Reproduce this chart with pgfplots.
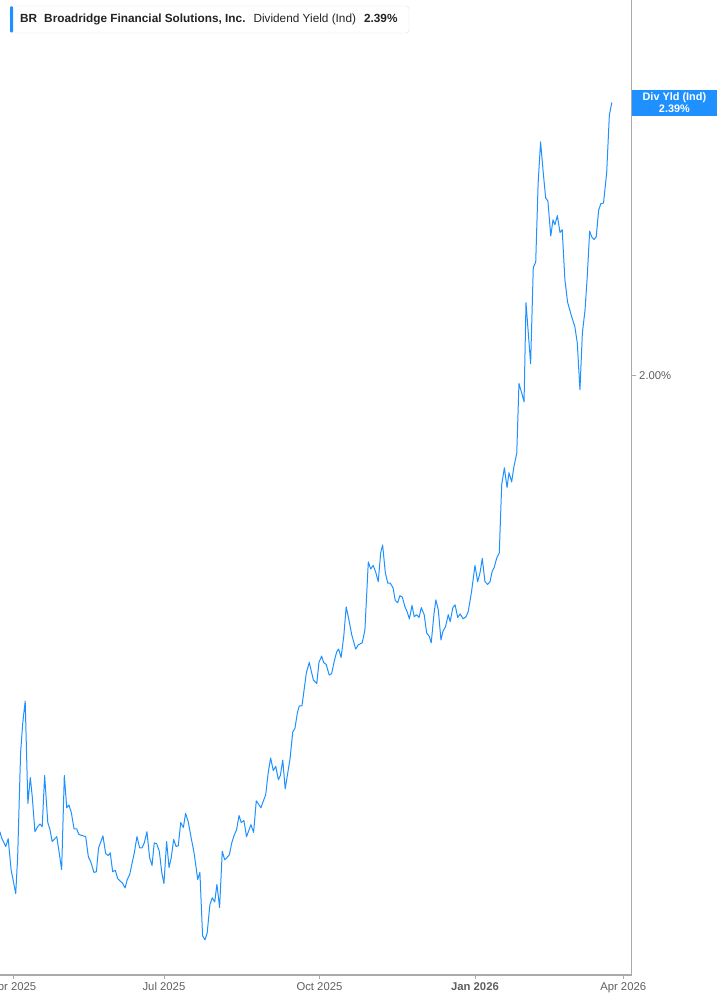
\documentclass[border=0pt]{standalone}
\usepackage{fontspec}
\setmainfont{Liberation Sans}
\usepackage{pgfplots}
\pgfplotsset{compat=1.18}
\definecolor{lineblue}{RGB}{30,144,255}
\definecolor{axisgray}{RGB}{170,170,170}
\definecolor{labelgray}{RGB}{95,95,95}
\definecolor{headtext}{RGB}{35,35,35}

\begin{document}
\begin{tikzpicture}[x=1pt,y=1pt]
\begin{axis}[
  at={(0,0)}, anchor=south west,
  scale only axis, width=631.7pt, height=975pt,
  xmin=-5.47, xmax=254.5, ymin=1.147, ymax=2.535,
  axis x line*=bottom, axis y line*=right,
  axis line style={axisgray, line width=1.2pt},
  xtick={0,62,126,190,251},
  xticklabels={Apr 2025, Jul 2025, Oct 2025, \textbf{Jan 2026}, Apr 2026},
  ytick={2}, yticklabels={2.00\%},
  tick align=outside, major tick length=4pt,
  tick style={axisgray, line width=0.8pt},
  tick label style={font=\fontsize{11.3}{13}\selectfont, text=labelgray},
  /pgf/number format/assume math mode=true,
  clip mode=individual,
]
% x: trading day since 1 Apr 2025, y: dividend yield in %
\addplot[lineblue, line width=1pt, line join=round] coordinates {
(-5.5,1.351) (-4.8,1.342) (-3.1,1.330) (-2.1,1.341) (-0.9,1.297)
(1.0,1.263) (1.8,1.315) (3.0,1.463) (3.9,1.506) (4.9,1.537)
(6.0,1.391) (7.0,1.428) (7.8,1.401) (8.9,1.351) (10.0,1.358)
(11.0,1.362) (11.9,1.358) (12.9,1.431) (14.2,1.364) (15.1,1.354)
(16.0,1.337) (17.9,1.344) (19.9,1.297) (21.0,1.431) (22.0,1.385)
(22.9,1.389) (23.9,1.378) (25.0,1.355) (26.1,1.355) (27.0,1.347)
(29.8,1.344) (30.9,1.315) (31.9,1.308) (33.2,1.293) (34.2,1.294)
(35.1,1.328) (36.9,1.345) (38.0,1.320) (39.1,1.317) (39.9,1.321)
(40.9,1.294) (42.0,1.296) (43.0,1.284) (43.9,1.281) (44.9,1.278)
(46.0,1.271) (46.9,1.283) (47.9,1.290) (49.8,1.321) (50.9,1.344)
(52.0,1.328) (53.0,1.328) (53.9,1.335) (55.0,1.351) (56.1,1.314)
(57.1,1.303) (58.0,1.335) (59.0,1.334) (60.1,1.323) (61.1,1.293)
(62.0,1.277) (63.1,1.337) (64.1,1.300) (65.0,1.314) (66.0,1.340)
(67.0,1.330) (67.9,1.331) (68.9,1.364) (70.0,1.357) (70.9,1.377)
(72.0,1.365) (73.1,1.344) (74.4,1.321) (75.9,1.283) (76.8,1.293)
(77.9,1.203) (78.9,1.197) (79.8,1.207) (80.9,1.247) (81.9,1.257)
(82.9,1.251) (83.8,1.276) (84.9,1.243) (86.0,1.323) (87.0,1.311)
(87.9,1.314) (88.9,1.318) (89.9,1.335) (90.8,1.345) (91.9,1.354)
(92.9,1.374) (93.8,1.364) (94.9,1.367) (96.0,1.344) (97.8,1.361)
(98.9,1.350) (100.0,1.395) (101.9,1.385) (103.9,1.404) (104.9,1.435)
(105.9,1.456) (107.0,1.438) (108.0,1.444) (109.1,1.425) (109.9,1.431)
(110.9,1.453) (111.9,1.412) (113.9,1.455) (115.0,1.493) (115.9,1.498)
(116.9,1.520) (117.7,1.530) (118.8,1.530) (120.6,1.577) (121.8,1.592)
(123.5,1.567) (124.9,1.562) (125.8,1.592) (126.9,1.601) (127.7,1.592)
(128.8,1.589) (130.0,1.574) (131.0,1.576) (132.1,1.594) (133.1,1.607)
(133.9,1.611) (134.9,1.599) (136.0,1.629) (137.0,1.671) (138.1,1.653)
(139.3,1.631) (140.9,1.611) (142.0,1.617) (143.6,1.620) (144.7,1.638)
(146.1,1.735) (147.1,1.725) (148.1,1.730) (149.1,1.721) (150.2,1.707)
(151.2,1.748) (152.0,1.759) (153.1,1.720) (154.1,1.705) (155.1,1.705)
(156.3,1.698) (157.2,1.680) (158.2,1.677) (159.1,1.687) (160.1,1.685)
(161.2,1.671) (162.1,1.664) (163.0,1.654) (164.1,1.673) (165.0,1.657)
(166.0,1.660) (167.0,1.656) (167.9,1.670) (169.1,1.660) (170.1,1.634)
(171.2,1.629) (172.0,1.620) (173.1,1.660) (173.9,1.681) (174.9,1.667)
(176.0,1.624) (176.8,1.636) (177.9,1.643) (179.0,1.660) (179.8,1.650)
(180.9,1.670) (181.8,1.674) (182.9,1.656) (183.9,1.661) (185.1,1.654)
(186.3,1.657) (187.2,1.664) (188.6,1.693) (190.0,1.730) (191.1,1.707)
(192.1,1.720) (193.0,1.740) (194.1,1.707) (195.2,1.703) (196.2,1.707)
(197.1,1.722) (197.9,1.727) (198.9,1.740) (200.0,1.748) (201.0,1.845)
(202.1,1.869) (203.2,1.841) (204.0,1.862) (205.1,1.849) (206.0,1.870)
(207.2,1.890) (208.1,1.989) (209.2,1.976) (210.2,1.963) (211.0,2.104)
(212.9,2.017) (214.0,2.154) (215.0,2.162) (216.0,2.275) (217.0,2.333)
(218.1,2.289) (219.1,2.253) (220.0,2.249) (221.2,2.199) (222.1,2.222)
(222.9,2.215) (223.9,2.228) (225.0,2.204) (225.9,2.208) (227.0,2.137)
(228.1,2.105) (229.8,2.084) (231.1,2.070) (232.1,2.047) (233.2,1.980)
(234.2,2.061) (235.3,2.094) (236.2,2.141) (237.2,2.206) (238.0,2.198)
(239.0,2.194) (239.9,2.198) (240.9,2.236) (241.8,2.245) (242.9,2.246)
(244.2,2.289) (245.3,2.371) (246.3,2.389)
};
% last value tag on the right axis
\node[fill=lineblue, text=white, anchor=west, inner sep=0pt,
      minimum width=85pt, minimum height=26pt, align=center,
      font=\bfseries\fontsize{10.9}{11.5}\selectfont]
  at (axis cs:254.5,2.389) {Div Yld (Ind)\\2.39\%};
\end{axis}

% header box
\draw[rounded corners=3pt, draw=black!12, fill=white] (10,942) rectangle (409,969);
\fill[lineblue, rounded corners=1pt] (10,942.5) rectangle (13,968.5);
\node[anchor=west, inner sep=0pt, text=headtext, font=\fontsize{11.8}{13}\selectfont]
  at (20,955.5) {\textbf{BR}\hspace{7pt}\textbf{Broadridge Financial Solutions, Inc.}\hspace{8pt}Dividend Yield (Ind)\hspace{8pt}\textbf{2.39\%}};

\pgfresetboundingbox
\useasboundingbox (0,-30) rectangle (717,975);
\end{tikzpicture}
\end{document}
